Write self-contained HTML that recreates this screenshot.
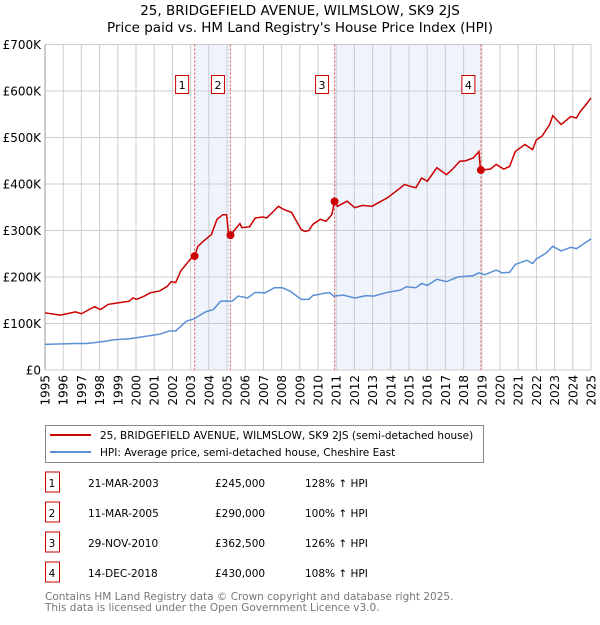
<!DOCTYPE html>
<html><head><meta charset="utf-8"><style>
body{margin:0;background:#fff;font-family:"Liberation Sans","DejaVu Sans",sans-serif;}
svg text{font-family:"DejaVu Sans","Liberation Sans",sans-serif;}
</style></head><body>
<svg id="chart" width="600" height="620" xmlns="http://www.w3.org/2000/svg">
<text x="300" y="15" text-anchor="middle" font-size="13.5" fill="#000">25, BRIDGEFIELD AVENUE, WILMSLOW, SK9 2JS</text>
<text x="300" y="32" text-anchor="middle" font-size="13.5" fill="#000">Price paid vs. HM Land Registry's House Price Index (HPI)</text>
<g id="plot"></g>
<g>
<rect x="45.5" y="425.5" width="438" height="37" fill="#fff" stroke="#888"/>
<line x1="50" y1="435" x2="91" y2="435" stroke="#cc0000" stroke-width="2"/>
<text x="100" y="439" font-size="10.5">25, BRIDGEFIELD AVENUE, WILMSLOW, SK9 2JS (semi-detached house)</text>
<line x1="50" y1="452" x2="91" y2="452" stroke="#5b8fd6" stroke-width="2"/>
<text x="100" y="456" font-size="10.5">HPI: Average price, semi-detached house, Cheshire East</text>
</g>
<g id="table"></g>
<text x="45" y="600" font-size="10.5" fill="#777">Contains HM Land Registry data © Crown copyright and database right 2025.</text>
<text x="45" y="611" font-size="10.5" fill="#777">This data is licensed under the Open Government Licence v3.0.</text>
</svg>
<script>
const yTicks=[0,100,200,300,400,500,600,700];
const yTickLabels=["£0","£100K","£200K","£300K","£400K","£500K","£600K","£700K"];
const years=[1995,1996,1997,1998,1999,2000,2001,2002,2003,2004,2005,2006,2007,2008,2009,2010,2011,2012,2013,2014,2015,2016,2017,2018,2019,2020,2021,2022,2023,2024,2025];
const redT=[0,0.84,1.68,2.0,2.52,2.73,3.05,3.47,3.78,4.62,4.83,5.04,5.46,5.78,6.30,6.72,6.93,7.18,7.46,7.98,8.22,8.40,8.82,9.14,9.45,9.77,9.98,10.08,10.19,10.71,10.82,11.24,11.55,11.97,12.18,12.50,12.82,13.13,13.55,13.76,14.08,14.29,14.50,14.71,15.13,15.44,15.76,15.91,16.07,16.60,17.02,17.44,17.96,18.28,18.80,19.54,19.75,20.06,20.38,20.69,21.01,21.53,22.06,22.37,22.79,23.11,23.53,23.84,23.91,23.95,24.47,24.79,25.21,25.53,25.84,26.37,26.79,27.00,27.31,27.73,27.90,28.36,28.89,29.20,29.41,29.73,30.0];
const redV=[123,118,125,121,132,136,130,141,143,148,155,152,159,166,170,180,190,188,213,238,245,266,281,291,324,334,334,295,290,315,306,308,327,329,327,339,352,345,339,324,302,298,300,313,324,320,334,362.5,352,363,349,354,352,359,370,392,399,395,392,413,406,435,420,431,449,450,456,470,438,430,432,442,432,438,470,485,474,495,503,528,547,528,545,542,556,571,585];
const hpiT=[0,1.68,2.31,2.94,3.36,3.78,4.62,5.46,6.30,6.83,7.18,7.77,8.19,8.82,9.24,9.66,10.29,10.61,11.13,11.55,12.08,12.61,13.03,13.45,14.08,14.50,14.71,15.34,15.65,15.86,16.39,17.02,17.65,18.07,18.70,19.54,19.85,20.38,20.69,21.01,21.53,22.06,22.69,23.53,23.84,24.16,24.79,25.11,25.53,25.84,26.47,26.79,27.00,27.52,27.90,28.36,28.89,29.20,29.62,30.0];
const hpiV=[55,57,57,60,62,65,67,72,77,84,84,105,110,125,130,148,148,159,155,167,166,177,177,170,152,152,160,165,166,159,161,155,160,159,166,172,179,177,186,182,195,190,200,203,209,205,215,209,210,227,236,229,239,251,266,256,264,261,272,282];
const saleLabels=["1","2","3","4"];
const saleT=[8.22,10.19,15.91,23.95];
const saleV=[245,290,362.5,430];
const saleDates=["21-MAR-2003","11-MAR-2005","29-NOV-2010","14-DEC-2018"];
const salePrices=["£245,000","£290,000","£362,500","£430,000"];
const saleHpi=["128% ↑ HPI","100% ↑ HPI","126% ↑ HPI","108% ↑ HPI"];

const NS="http://www.w3.org/2000/svg";
const L=45,R=591,T=44.5,B=370;
const xS=t=>L+t/30*(R-L);
const yS=v=>B-v/700*(B-T);
function mk(tag,attrs,parent){const e=document.createElementNS(NS,tag);for(const k in attrs)e.setAttribute(k,attrs[k]);parent.appendChild(e);return e;}
const plot=document.getElementById('plot');
let r;
r=mk('rect',{x:L,y:T,width:R-L,height:B-T,fill:'#fff'},plot);


[[0,1],[2,3]].forEach((p,i)=>{
 const e=mk('rect',{x:xS(saleT[p[0]]),y:T,width:xS(saleT[p[1]])-xS(saleT[p[0]]),height:B-T,fill:'#eef3fc'},plot);
 
 
});
years.forEach((y,i)=>{
 const x=xS(y-1995);
 const g=mk('line',{x1:x,x2:x,y1:T,y2:B,stroke:'#cccccc','stroke-width':1},plot);
 
 
 const t=mk('text',{x:0,y:0,transform:`translate(${x+4.5},${B+5}) rotate(-90)`,'text-anchor':'end','font-size':12},plot);
 
 
 t.textContent=y;
});
yTicks.forEach((v,i)=>{
 const y=yS(v);
 const g=mk('line',{x1:L,x2:R,y1:y,y2:y,stroke:'#cccccc','stroke-width':1},plot);
 
 
 const t=mk('text',{x:L-4,y:y+4.5,'text-anchor':'end','font-size':12},plot);
 
 
 t.textContent=yTickLabels[i];
});
const ax=mk('line',{x1:L,x2:L,y1:T,y2:B,stroke:'#999'},plot);


saleT.forEach((t,i)=>{
 const x=xS(t);
 const d=mk('line',{x1:x,x2:x,y1:T,y2:B,stroke:'#e05050','stroke-dasharray':'2,2','stroke-width':1},plot);
 
 
 const b=mk('rect',{x:x-19,y:75.5,width:13,height:18,fill:'#fff',stroke:'#cc0000'},plot);
 
 
 const tt=mk('text',{x:x-12.5,y:89,'text-anchor':'middle','font-size':11},plot);
 
 
 tt.textContent=saleLabels[i];
});
const hp=mk('polyline',{points:hpiT.map((t,i)=>xS(t)+','+yS(hpiV[i])).join(' '),fill:'none',stroke:'#5b8fd6','stroke-width':1.5},plot);


const rp=mk('polyline',{points:redT.map((t,i)=>xS(t)+','+yS(redV[i])).join(' '),fill:'none',stroke:'#cc0000','stroke-width':1.5},plot);


saleT.forEach((t,i)=>{
 const c=mk('circle',{cx:xS(t),cy:yS(saleV[i]),r:4,fill:'#cc0000'},plot);
 
 
});
const tb=document.getElementById('table');
saleLabels.forEach((s,i)=>{
 const y=483+i*30;
 const b=mk('rect',{x:45.5,y:y-11,width:14,height:20,fill:'#fff',stroke:'#cc0000'},tb);
 
 
 const cells=[[52,s,'middle'],[88,saleDates[i],'start'],[215,salePrices[i],'start'],[305,saleHpi[i],'start']];
 cells.forEach(c=>{
  const t=mk('text',{x:c[0],y:y+4,'text-anchor':c[2],'font-size':10.5},tb);
  
  
  t.textContent=c[1];
 });
});
</script>
</body></html>
